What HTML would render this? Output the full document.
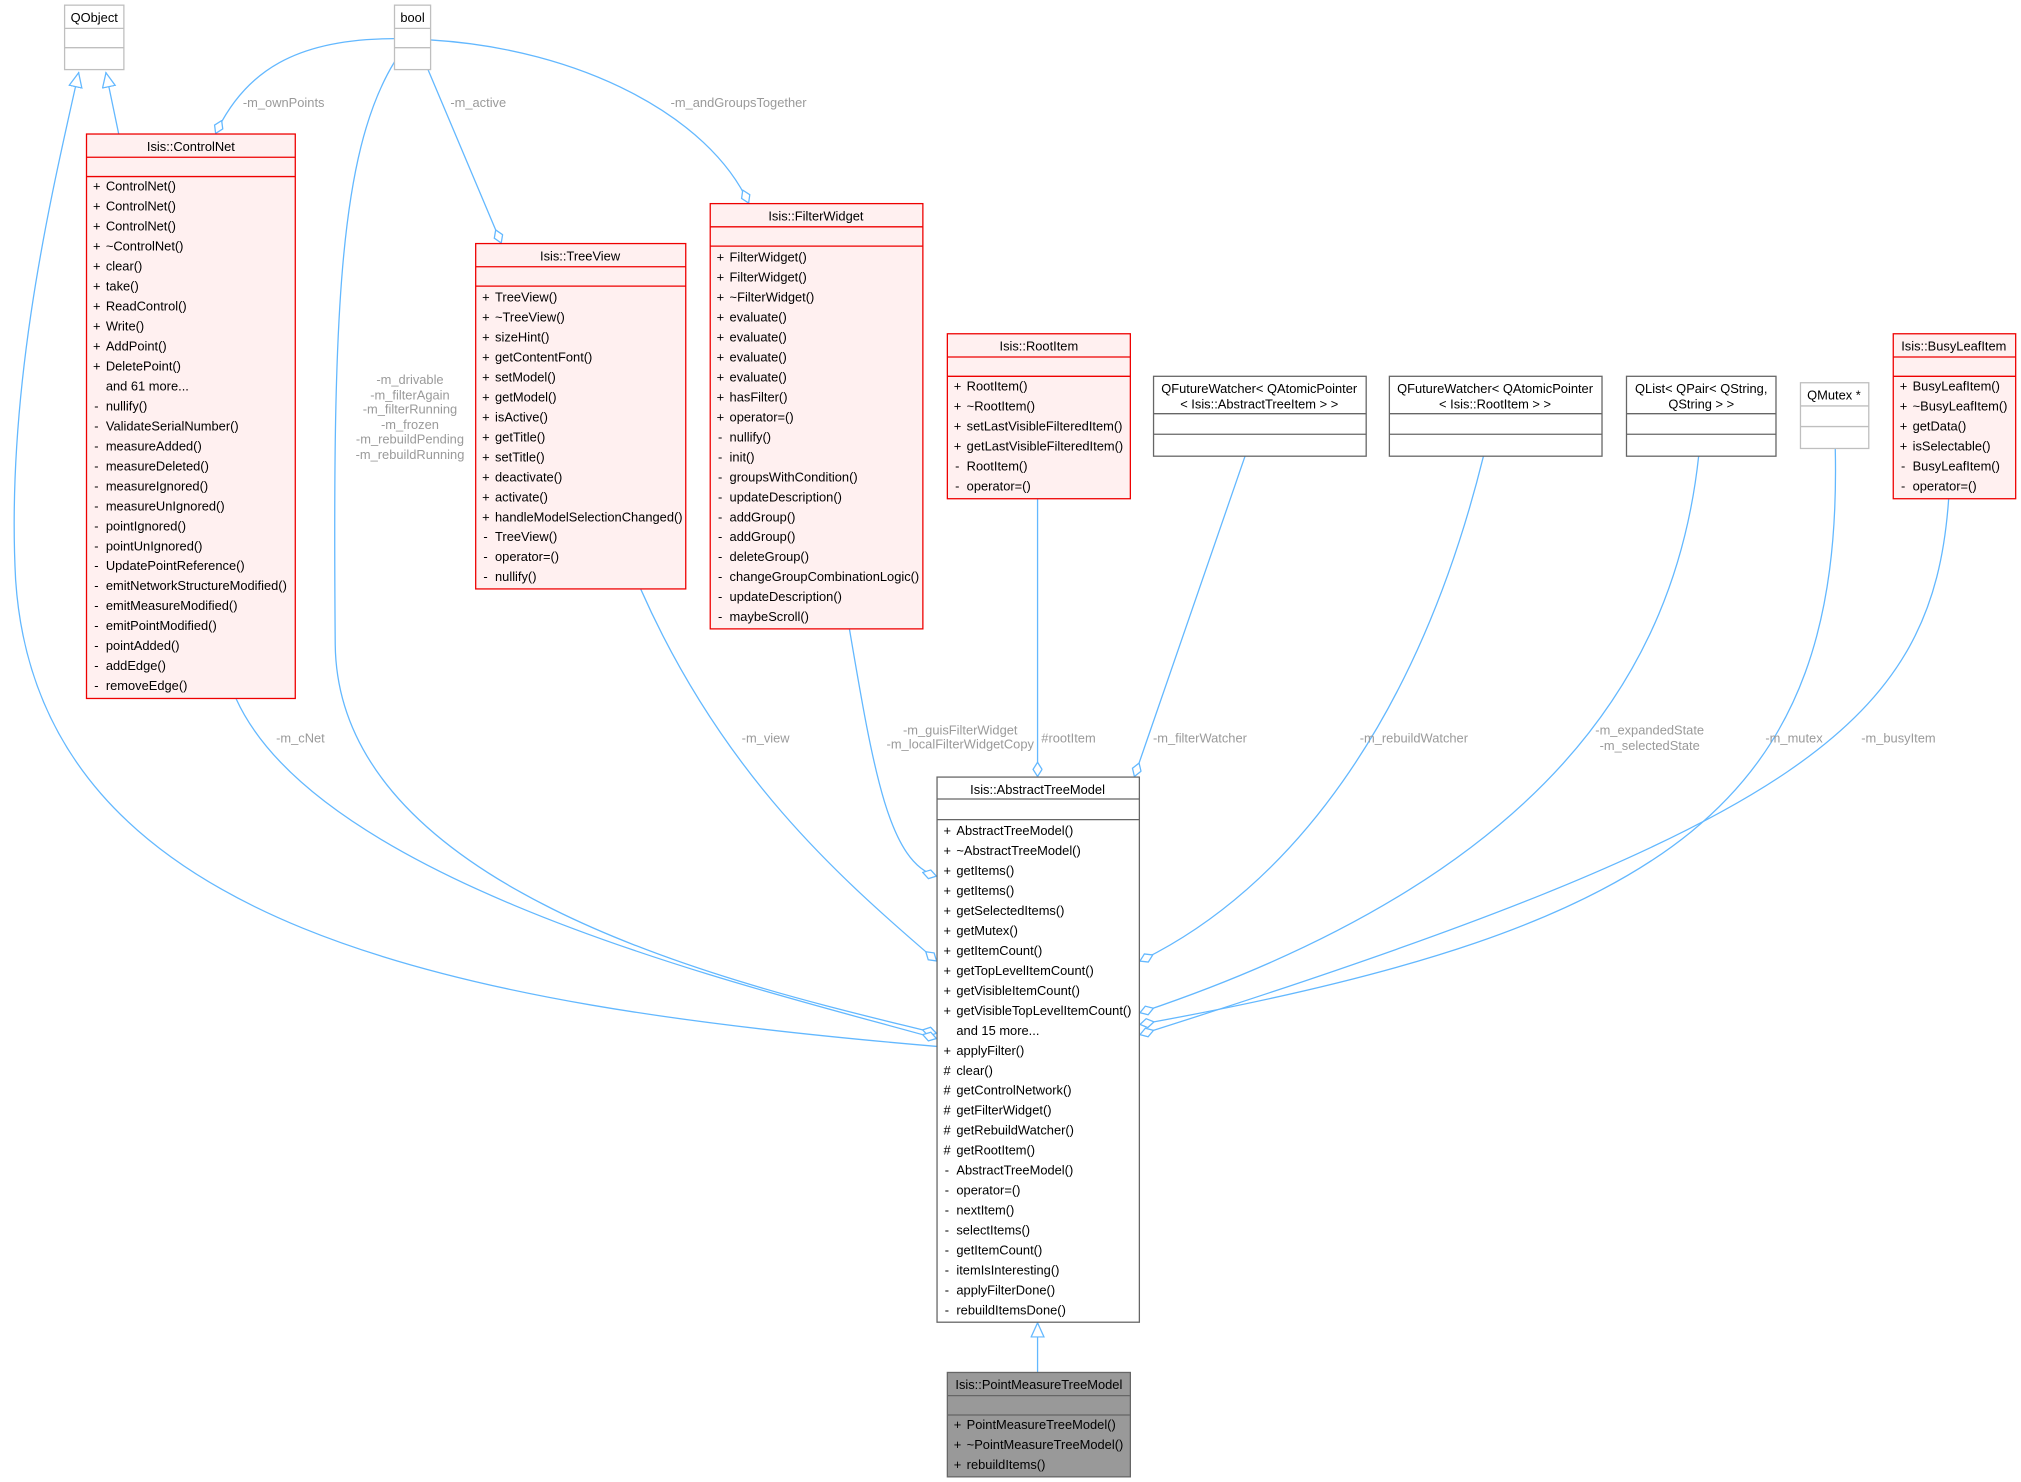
<!DOCTYPE html>
<html><head><meta charset="utf-8"><style>html,body{margin:0;padding:0;background:#fff}svg{display:block}</style></head>
<body>
<svg width="2021" height="1482" viewBox="0 0 1568 1150" xmlns="http://www.w3.org/2000/svg" font-family="Liberation Sans, sans-serif" font-size="10">
<defs>
<marker id="d" markerUnits="userSpaceOnUse" markerWidth="14" markerHeight="10" refX="12" refY="4" orient="auto"><path d="M0.5,4 L6,0.5 L11.5,4 L6,7.5 Z" fill="#fff" stroke="#63b8ff" stroke-width="1"/></marker>
<marker id="t" markerUnits="userSpaceOnUse" markerWidth="14" markerHeight="12" refX="12" refY="5.5" orient="auto"><path d="M0.5,0.5 L11.5,5.5 L0.5,10.5 Z" fill="#fff" stroke="#63b8ff" stroke-width="1"/></marker>
</defs>
<g fill="none" stroke="#63b8ff" stroke-width="1">
<path d="M727,812 C350,780 30,720 12,450 C4,300 40,150 61,56" marker-end="url(#t)"/>
<path d="M92,104 L82,56" marker-end="url(#t)"/>
<path d="M306,30 C230,30 190,55 167,104" marker-end="url(#d)"/>
<path d="M332,54 L389,189" marker-end="url(#d)"/>
<path d="M334,31 C450,38 550,90 581,158" marker-end="url(#d)"/>
<path d="M306,48 C262,120 258,250 260,500 C262,700 600,770 727,802" marker-end="url(#d)"/>
<path d="M183,542 C250,690 600,770 727,806" marker-end="url(#d)"/>
<path d="M497,457 C560,600 650,680 727,746" marker-end="url(#d)"/>
<path d="M659,488 C678,600 690,670 727,680" marker-end="url(#d)"/>
<path d="M805,387 L805,603" marker-end="url(#d)"/>
<path d="M966,354 L880,603" marker-end="url(#d)"/>
<path d="M1151,354 C1100,560 1000,690 884,746" marker-end="url(#d)"/>
<path d="M1318,354 C1300,520 1200,680 884,786" marker-end="url(#d)"/>
<path d="M1424,348 C1430,620 1300,720 884,795" marker-end="url(#d)"/>
<path d="M1512,387 C1500,560 1400,640 884,803" marker-end="url(#d)"/>
<path d="M805,1065 L805,1026" marker-end="url(#t)"/>
</g>
<g fill="#9a9a9a" font-size="10">
<text x="220" y="83" text-anchor="middle">-m_ownPoints</text>
<text x="371" y="83" text-anchor="middle">-m_active</text>
<text x="573" y="83" text-anchor="middle">-m_andGroupsTogether</text>
<g text-anchor="middle"><text x="318" y="298">-m_drivable</text><text x="318" y="310">-m_filterAgain</text><text x="318" y="321">-m_filterRunning</text><text x="318" y="333">-m_frozen</text><text x="318" y="344">-m_rebuildPending</text><text x="318" y="356">-m_rebuildRunning</text></g>
<text x="233" y="576" text-anchor="middle">-m_cNet</text>
<text x="594" y="576" text-anchor="middle">-m_view</text>
<text x="745" y="570" text-anchor="middle">-m_guisFilterWidget</text>
<text x="745" y="581" text-anchor="middle">-m_localFilterWidgetCopy</text>
<text x="829" y="576" text-anchor="middle">#rootItem</text>
<text x="931" y="576" text-anchor="middle">-m_filterWatcher</text>
<text x="1097" y="576" text-anchor="middle">-m_rebuildWatcher</text>
<text x="1280" y="570" text-anchor="middle">-m_expandedState</text>
<text x="1280" y="582" text-anchor="middle">-m_selectedState</text>
<text x="1392" y="576" text-anchor="middle">-m_mutex</text>
<text x="1473" y="576" text-anchor="middle">-m_busyItem</text>
</g>
<!-- grey boxes -->
<g fill="#fff" stroke="#bfbfbf" stroke-width="1">
<rect x="50" y="4" width="46" height="50"/><line x1="50" y1="22" x2="96" y2="22"/><line x1="50" y1="37" x2="96" y2="37"/>
<rect x="306" y="4" width="28" height="50"/><line x1="306" y1="22" x2="334" y2="22"/><line x1="306" y1="37" x2="334" y2="37"/>
<rect x="1397" y="297" width="53" height="51"/><line x1="1397" y1="315" x2="1450" y2="315"/><line x1="1397" y1="331" x2="1450" y2="331"/>
</g>
<g fill="#fff" stroke="#666" stroke-width="1">
<rect x="895" y="292" width="165" height="62"/><line x1="895" y1="321" x2="1060" y2="321"/><line x1="895" y1="337" x2="1060" y2="337"/>
<rect x="1078" y="292" width="165" height="62"/><line x1="1078" y1="321" x2="1243" y2="321"/><line x1="1078" y1="337" x2="1243" y2="337"/>
<rect x="1262" y="292" width="116" height="62"/><line x1="1262" y1="321" x2="1378" y2="321"/><line x1="1262" y1="337" x2="1378" y2="337"/>
<rect x="727" y="603" width="157" height="423"/><line x1="727" y1="620" x2="884" y2="620"/><line x1="727" y1="636" x2="884" y2="636"/>
</g>
<g fill="#999" stroke="#666" stroke-width="1">
<rect x="735" y="1065" width="142" height="81"/><line x1="735" y1="1083" x2="877" y2="1083"/><line x1="735" y1="1098" x2="877" y2="1098"/>
</g>
<g fill="#fff0f0" stroke="#e00" stroke-width="1">
<rect x="67" y="104" width="162" height="438"/><line x1="67" y1="122" x2="229" y2="122"/><line x1="67" y1="137" x2="229" y2="137"/>
<rect x="369" y="189" width="163" height="268"/><line x1="369" y1="207" x2="532" y2="207"/><line x1="369" y1="222" x2="532" y2="222"/>
<rect x="551" y="158" width="165" height="330"/><line x1="551" y1="176" x2="716" y2="176"/><line x1="551" y1="191" x2="716" y2="191"/>
<rect x="735" y="259" width="142" height="128"/><line x1="735" y1="277" x2="877" y2="277"/><line x1="735" y1="292" x2="877" y2="292"/>
<rect x="1469" y="259" width="95" height="128"/><line x1="1469" y1="277" x2="1564" y2="277"/><line x1="1469" y1="292" x2="1564" y2="292"/>
</g>
<g fill="#000" text-anchor="middle">
<text x="73" y="17">QObject</text>
<text x="320" y="17">bool</text>
<text x="1423" y="310">QMutex *</text>
<text x="977" y="305">QFutureWatcher&lt; QAtomicPointer</text><text x="977" y="317">&lt; Isis::AbstractTreeItem &gt; &gt;</text>
<text x="1160" y="305">QFutureWatcher&lt; QAtomicPointer</text><text x="1160" y="317">&lt; Isis::RootItem &gt; &gt;</text>
<text x="1320" y="305">QList&lt; QPair&lt; QString,</text><text x="1320" y="317">QString &gt; &gt;</text>
<text x="148" y="117">Isis::ControlNet</text>
<text x="450" y="202">Isis::TreeView</text>
<text x="633" y="171">Isis::FilterWidget</text>
<text x="806" y="272">Isis::RootItem</text>
<text x="1516" y="272">Isis::BusyLeafItem</text>
<text x="805" y="616">Isis::AbstractTreeModel</text>
<text x="806" y="1078">Isis::PointMeasureTreeModel</text>
</g>
<g fill="#000">
<g transform="translate(67,148)">
<text x="5" y="0">+</text><text x="15" y="0">ControlNet()</text>
<text x="5" y="15.5">+</text><text x="15" y="15.5">ControlNet()</text>
<text x="5" y="31">+</text><text x="15" y="31">ControlNet()</text>
<text x="5" y="46.5">+</text><text x="15" y="46.5">~ControlNet()</text>
<text x="5" y="62">+</text><text x="15" y="62">clear()</text>
<text x="5" y="77.5">+</text><text x="15" y="77.5">take()</text>
<text x="5" y="93">+</text><text x="15" y="93">ReadControl()</text>
<text x="5" y="108.5">+</text><text x="15" y="108.5">Write()</text>
<text x="5" y="124">+</text><text x="15" y="124">AddPoint()</text>
<text x="5" y="139.5">+</text><text x="15" y="139.5">DeletePoint()</text>
<text x="15" y="155">and 61 more...</text>
<text x="6" y="170.5">-</text><text x="15" y="170.5">nullify()</text>
<text x="6" y="186">-</text><text x="15" y="186">ValidateSerialNumber()</text>
<text x="6" y="201.5">-</text><text x="15" y="201.5">measureAdded()</text>
<text x="6" y="217">-</text><text x="15" y="217">measureDeleted()</text>
<text x="6" y="232.5">-</text><text x="15" y="232.5">measureIgnored()</text>
<text x="6" y="248">-</text><text x="15" y="248">measureUnIgnored()</text>
<text x="6" y="263.5">-</text><text x="15" y="263.5">pointIgnored()</text>
<text x="6" y="279">-</text><text x="15" y="279">pointUnIgnored()</text>
<text x="6" y="294.5">-</text><text x="15" y="294.5">UpdatePointReference()</text>
<text x="6" y="310">-</text><text x="15" y="310">emitNetworkStructureModified()</text>
<text x="6" y="325.5">-</text><text x="15" y="325.5">emitMeasureModified()</text>
<text x="6" y="341">-</text><text x="15" y="341">emitPointModified()</text>
<text x="6" y="356.5">-</text><text x="15" y="356.5">pointAdded()</text>
<text x="6" y="372">-</text><text x="15" y="372">addEdge()</text>
<text x="6" y="387.5">-</text><text x="15" y="387.5">removeEdge()</text>
</g>
<g transform="translate(369,234)">
<text x="5" y="0">+</text><text x="15" y="0">TreeView()</text>
<text x="5" y="15.5">+</text><text x="15" y="15.5">~TreeView()</text>
<text x="5" y="31">+</text><text x="15" y="31">sizeHint()</text>
<text x="5" y="46.5">+</text><text x="15" y="46.5">getContentFont()</text>
<text x="5" y="62">+</text><text x="15" y="62">setModel()</text>
<text x="5" y="77.5">+</text><text x="15" y="77.5">getModel()</text>
<text x="5" y="93">+</text><text x="15" y="93">isActive()</text>
<text x="5" y="108.5">+</text><text x="15" y="108.5">getTitle()</text>
<text x="5" y="124">+</text><text x="15" y="124">setTitle()</text>
<text x="5" y="139.5">+</text><text x="15" y="139.5">deactivate()</text>
<text x="5" y="155">+</text><text x="15" y="155">activate()</text>
<text x="5" y="170.5">+</text><text x="15" y="170.5">handleModelSelectionChanged()</text>
<text x="6" y="186">-</text><text x="15" y="186">TreeView()</text>
<text x="6" y="201.5">-</text><text x="15" y="201.5">operator=()</text>
<text x="6" y="217">-</text><text x="15" y="217">nullify()</text>
</g>
<g transform="translate(551,203)">
<text x="5" y="0">+</text><text x="15" y="0">FilterWidget()</text>
<text x="5" y="15.5">+</text><text x="15" y="15.5">FilterWidget()</text>
<text x="5" y="31">+</text><text x="15" y="31">~FilterWidget()</text>
<text x="5" y="46.5">+</text><text x="15" y="46.5">evaluate()</text>
<text x="5" y="62">+</text><text x="15" y="62">evaluate()</text>
<text x="5" y="77.5">+</text><text x="15" y="77.5">evaluate()</text>
<text x="5" y="93">+</text><text x="15" y="93">evaluate()</text>
<text x="5" y="108.5">+</text><text x="15" y="108.5">hasFilter()</text>
<text x="5" y="124">+</text><text x="15" y="124">operator=()</text>
<text x="6" y="139.5">-</text><text x="15" y="139.5">nullify()</text>
<text x="6" y="155">-</text><text x="15" y="155">init()</text>
<text x="6" y="170.5">-</text><text x="15" y="170.5">groupsWithCondition()</text>
<text x="6" y="186">-</text><text x="15" y="186">updateDescription()</text>
<text x="6" y="201.5">-</text><text x="15" y="201.5">addGroup()</text>
<text x="6" y="217">-</text><text x="15" y="217">addGroup()</text>
<text x="6" y="232.5">-</text><text x="15" y="232.5">deleteGroup()</text>
<text x="6" y="248">-</text><text x="15" y="248">changeGroupCombinationLogic()</text>
<text x="6" y="263.5">-</text><text x="15" y="263.5">updateDescription()</text>
<text x="6" y="279">-</text><text x="15" y="279">maybeScroll()</text>
</g>
<g transform="translate(735,303)">
<text x="5" y="0">+</text><text x="15" y="0">RootItem()</text>
<text x="5" y="15.5">+</text><text x="15" y="15.5">~RootItem()</text>
<text x="5" y="31">+</text><text x="15" y="31">setLastVisibleFilteredItem()</text>
<text x="5" y="46.5">+</text><text x="15" y="46.5">getLastVisibleFilteredItem()</text>
<text x="6" y="62">-</text><text x="15" y="62">RootItem()</text>
<text x="6" y="77.5">-</text><text x="15" y="77.5">operator=()</text>
</g>
<g transform="translate(1469,303)">
<text x="5" y="0">+</text><text x="15" y="0">BusyLeafItem()</text>
<text x="5" y="15.5">+</text><text x="15" y="15.5">~BusyLeafItem()</text>
<text x="5" y="31">+</text><text x="15" y="31">getData()</text>
<text x="5" y="46.5">+</text><text x="15" y="46.5">isSelectable()</text>
<text x="6" y="62">-</text><text x="15" y="62">BusyLeafItem()</text>
<text x="6" y="77.5">-</text><text x="15" y="77.5">operator=()</text>
</g>
<g transform="translate(727,648)">
<text x="5" y="0">+</text><text x="15" y="0">AbstractTreeModel()</text>
<text x="5" y="15.5">+</text><text x="15" y="15.5">~AbstractTreeModel()</text>
<text x="5" y="31">+</text><text x="15" y="31">getItems()</text>
<text x="5" y="46.5">+</text><text x="15" y="46.5">getItems()</text>
<text x="5" y="62">+</text><text x="15" y="62">getSelectedItems()</text>
<text x="5" y="77.5">+</text><text x="15" y="77.5">getMutex()</text>
<text x="5" y="93">+</text><text x="15" y="93">getItemCount()</text>
<text x="5" y="108.5">+</text><text x="15" y="108.5">getTopLevelItemCount()</text>
<text x="5" y="124">+</text><text x="15" y="124">getVisibleItemCount()</text>
<text x="5" y="139.5">+</text><text x="15" y="139.5">getVisibleTopLevelItemCount()</text>
<text x="15" y="155">and 15 more...</text>
<text x="5" y="170.5">+</text><text x="15" y="170.5">applyFilter()</text>
<text x="5" y="186">#</text><text x="15" y="186">clear()</text>
<text x="5" y="201.5">#</text><text x="15" y="201.5">getControlNetwork()</text>
<text x="5" y="217">#</text><text x="15" y="217">getFilterWidget()</text>
<text x="5" y="232.5">#</text><text x="15" y="232.5">getRebuildWatcher()</text>
<text x="5" y="248">#</text><text x="15" y="248">getRootItem()</text>
<text x="6" y="263.5">-</text><text x="15" y="263.5">AbstractTreeModel()</text>
<text x="6" y="279">-</text><text x="15" y="279">operator=()</text>
<text x="6" y="294.5">-</text><text x="15" y="294.5">nextItem()</text>
<text x="6" y="310">-</text><text x="15" y="310">selectItems()</text>
<text x="6" y="325.5">-</text><text x="15" y="325.5">getItemCount()</text>
<text x="6" y="341">-</text><text x="15" y="341">itemIsInteresting()</text>
<text x="6" y="356.5">-</text><text x="15" y="356.5">applyFilterDone()</text>
<text x="6" y="372">-</text><text x="15" y="372">rebuildItemsDone()</text>
</g>
<g transform="translate(735,1109)">
<text x="5" y="0">+</text><text x="15" y="0">PointMeasureTreeModel()</text>
<text x="5" y="15.5">+</text><text x="15" y="15.5">~PointMeasureTreeModel()</text>
<text x="5" y="31">+</text><text x="15" y="31">rebuildItems()</text>
</g>
</g>
</svg>
</body></html>
